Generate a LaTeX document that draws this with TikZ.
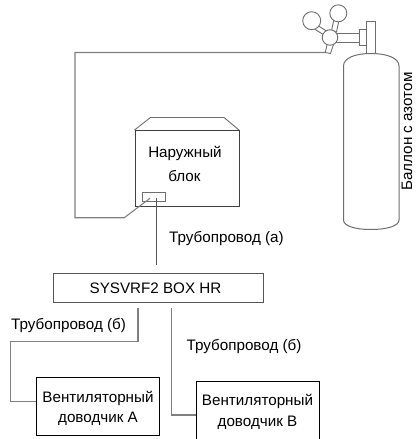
\documentclass[tikz,border=0pt]{standalone}
\usepackage{fontspec}
\setmainfont{Liberation Sans}
\definecolor{pipe}{HTML}{7F7F7F}
\definecolor{frame}{HTML}{555555}
\definecolor{gear}{HTML}{6E6E6E}
\begin{document}
\begin{tikzpicture}[x=1pt,y=-1pt,line join=miter,
  label text/.style={font=\fontsize{15.2}{15.2}\selectfont,inner sep=0pt,text=black},
  unit/.style={draw=#1,line width=1.1pt,fill=white,inner sep=0pt,anchor=north west},
  pipeline/.style={draw=pipe,line width=1.1pt},
  fitting/.style={draw=gear,line width=.9pt,fill=white},
  gauge/.style={circle,draw=gear,line width=.9pt,fill=white,inner sep=0pt,minimum size=#1}]
\useasboundingbox (0,0) rectangle (416,439);

% cylinder body and valve assembly
\draw[fitting,line width=1pt] (343.5,66)
  .. controls (343.5,58) and (355,53.5) .. (371,53.5)
  .. controls (387,53.5) and (399,58) .. (399,66)
  -- (399,220)
  .. controls (399,226) and (387,229.5) .. (371,229.5)
  .. controls (355,229.5) and (343.5,226) .. (343.5,220) -- cycle;
\draw[fitting] (366.7,21.7) rectangle (375.7,53.5);
\draw[fitting] (359.5,29.3) rectangle (366.7,45.3);
\draw[fitting] (336,33.7) rectangle (359.5,42.3);
\draw[fitting] (325.2,52.5) -- (327.5,43) -- (333.5,44.5) -- (330.5,53.5) -- cycle;
\draw[fitting] (335,14) -- (331.5,31) -- (336.5,32) -- (340,15) -- cycle;
\draw[fitting] (317,25) -- (328,32) -- (325.5,36) -- (314.5,29) -- cycle;
\node[gauge=17pt] (gaugeA) at (338.3,13.3) {};
\node[gauge=18pt] (gaugeB) at (311.7,20.7) {};
\node[gauge=15.5pt] (valve) at (330,37.5) {};

% outdoor unit
\draw[draw=gear,line width=.9pt] (134.5,130) -- (150.5,117.5) -- (224,117.5) -- (239,130);
\node[unit=black!75,minimum width=104.5pt,minimum height=75.7pt,line width=1pt] (outdoor) at (134.5,130) {};
\node[label text] (outdoorA) at (185,153) {Наружный};
\node[label text] (outdoorB) at (184.5,176) {блок};
\node[unit=gear,minimum width=23.3pt,minimum height=8.5pt,line width=.9pt,fill=none] (port) at (141.7,192.3) {};

% refrigerant box and fan coils
\node[unit=frame,minimum width=210pt,minimum height=29pt] (box) at (53.3,272.7) {};
\node[label text] (boxlabel) at (155.5,288) {SYSVRF2 BOX HR};
\node[unit=black,minimum width=123.3pt,minimum height=58.3pt] (coilA) at (36,376.7) {};
\node[label text] (coilAa) at (98,398) {Вентиляторный};
\node[label text] (coilAb) at (98,419) {доводчик A};
\node[unit=black,minimum width=123.6pt,minimum height=62pt] (coilB) at (195.7,380.7) {};
\node[label text] (coilBa) at (257.5,401.5) {Вентиляторный};
\node[label text] (coilBb) at (257.5,423) {доводчик B};

% pipe runs
\coordinate (nitrogen) at (325,52.5);
\coordinate (portIn) at (150,198.3);
\draw[pipeline] (nitrogen) -- (75,52.5) -- (75,217.7) -- (124.3,217.7) -- (portIn);
\coordinate (pipeAstart) at (156.7,198);
\coordinate (pipeAend) at (156.7,265);
\draw[draw=frame,line width=1pt] (pipeAstart) -- (pipeAend);
\coordinate (leftStart) at (138,308);
\draw[pipeline] (leftStart) -- (138,341.7) -- (10.5,341.7) -- (10.5,401.7) -- (coilA.west |- 0,401.7);
\coordinate (rightStart) at (171.3,308);
\draw[pipeline] (rightStart) -- (171.3,415) -- (coilB.west |- 0,415);

% labels
\node[label text,anchor=west] (pipeAlabel) at (169,238) {Трубопровод (а)};
\node[label text,anchor=west] (pipeBlabel) at (11,325) {Трубопровод (б)};
\node[label text,anchor=west] (pipeClabel) at (186.5,346) {Трубопровод (б)};
\node[label text,rotate=90,anchor=base] (cylinder) at (412,131.5) {Баллон с азотом};
\end{tikzpicture}
\end{document}
